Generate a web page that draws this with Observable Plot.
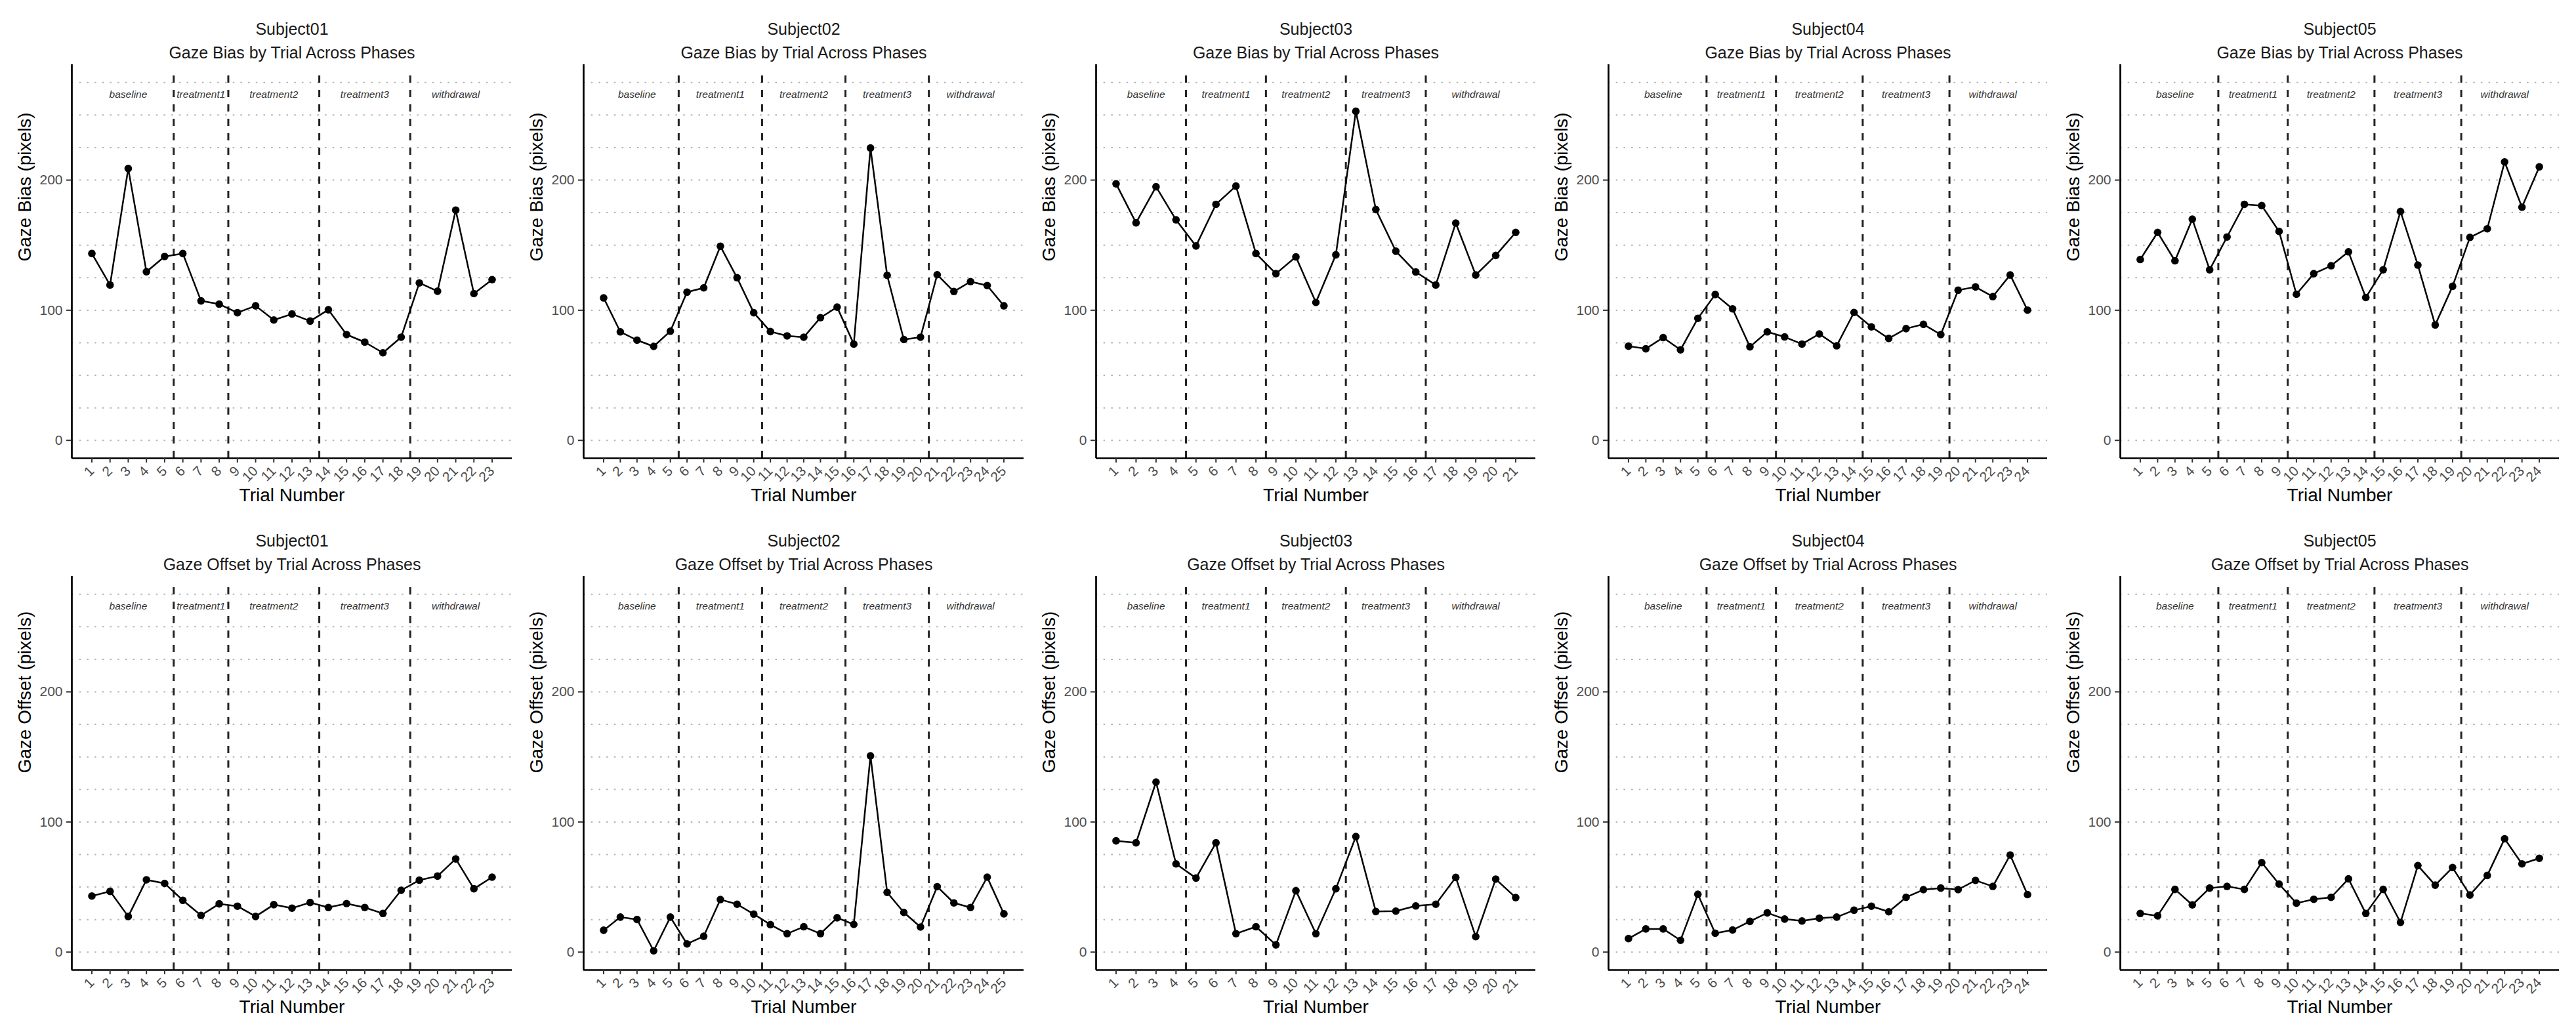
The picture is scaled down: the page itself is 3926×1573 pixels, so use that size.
<!DOCTYPE html>
<html>
<head>
<meta charset="utf-8">
<script src="https://cdn.jsdelivr.net/npm/d3@7"></script>
<script src="https://cdn.jsdelivr.net/npm/@observablehq/plot@0.6"></script>
<style>
  body { margin: 0; background: #fff; }
  #wrap { position: relative; width: 3926px; height: 1573px; background: #fff; }
  #wrap svg { position: absolute; }
</style>
</head>
<body>
<div id="wrap"></div>
<script>
// ---------- data ----------
const subjects = ["Subject01", "Subject02", "Subject03", "Subject04", "Subject05"];
const phaseNames = ["baseline", "treatment1", "treatment2", "treatment3", "withdrawal"];

// number of trials in each phase, per subject
const phaseLen01 = [5, 3, 5, 5, 5];
const phaseLen02 = [5, 5, 5, 5, 5];
const phaseLen03 = [4, 4, 4, 4, 5];
const phaseLen04 = [5, 4, 5, 5, 5];
const phaseLen05 = [5, 4, 5, 5, 5];

// Gaze Bias (pixels) by trial
const bias01 = [143.6, 119.4, 208.9, 129.6, 141.3, 143.6, 107.2, 104.7, 98.1, 103.4, 92.5, 97.1, 91.7, 100.4, 81.3, 75.5, 67.3, 79.3, 121.0, 114.6, 176.9, 112.8, 123.5];
const bias02 = [109.5, 83.4, 77.0, 72.2, 83.9, 113.9, 117.2, 149.2, 125.0, 98.1, 83.6, 80.3, 79.3, 94.3, 102.4, 74.0, 224.7, 126.8, 77.5, 79.3, 127.3, 114.4, 122.0, 119.0, 103.4];
const bias03 = [197.2, 167.2, 194.9, 169.5, 149.4, 181.4, 195.4, 143.6, 128.1, 141.0, 106.0, 142.6, 252.9, 177.4, 145.4, 129.4, 119.4, 167.0, 127.1, 142.1, 159.8];
const bias04 = [72.4, 70.4, 79.0, 69.6, 93.8, 112.1, 101.1, 71.9, 83.4, 79.5, 74.0, 81.8, 72.7, 98.3, 87.2, 78.3, 85.9, 89.2, 81.3, 115.4, 117.9, 110.5, 127.1, 100.1];
const bias05 = [139.0, 159.8, 138.0, 170.0, 131.1, 156.3, 181.4, 180.4, 160.6, 112.3, 128.1, 134.2, 144.9, 109.8, 131.1, 175.9, 134.7, 88.7, 118.4, 156.0, 162.6, 214.0, 179.2, 210.2];

// Gaze Offset (pixels) by trial
const offset01 = [43.1, 46.7, 27.4, 55.6, 52.8, 39.8, 28.2, 37.1, 35.3, 27.4, 36.5, 33.8, 38.1, 34.3, 37.3, 34.3, 29.7, 47.5, 55.3, 58.4, 71.6, 48.7, 57.6];
const offset02 = [16.8, 26.9, 25.1, 1.0, 26.9, 6.3, 12.2, 40.4, 36.8, 29.2, 21.1, 14.2, 19.5, 14.2, 26.4, 21.3, 150.8, 45.9, 30.5, 19.3, 50.3, 37.8, 34.3, 57.6, 29.4];
const offset03 = [85.5, 84.0, 130.7, 67.8, 56.9, 84.0, 14.2, 19.5, 5.6, 47.2, 14.2, 48.7, 88.8, 31.2, 31.5, 35.5, 36.8, 57.4, 11.9, 56.1, 41.9];
const offset04 = [10.4, 17.8, 17.8, 9.1, 44.4, 14.5, 17.0, 23.6, 30.2, 25.4, 23.9, 26.1, 26.9, 32.2, 35.3, 31.0, 42.1, 48.0, 49.2, 48.0, 55.1, 50.5, 74.6, 44.2];
const offset05 = [29.7, 27.9, 48.2, 36.3, 49.2, 50.5, 48.2, 68.8, 52.3, 37.6, 40.6, 42.1, 56.3, 29.7, 48.2, 22.8, 66.5, 51.5, 65.0, 43.9, 58.9, 87.1, 67.8, 72.1];

const yTicks = [0, 100, 200];
const gridValues = [0, 25, 50, 75, 100, 125, 150, 175, 200, 225, 250, 275];
const xTitle = "Trial Number";

// ---------- layout ----------
const phaseLens = [phaseLen01, phaseLen02, phaseLen03, phaseLen04, phaseLen05];
const rows = [
  {title: "Gaze Bias by Trial Across Phases", ylabel: "Gaze Bias (pixels)", series: [bias01, bias02, bias03, bias04, bias05], top: 0, height: 780},
  {title: "Gaze Offset by Trial Across Phases", ylabel: "Gaze Offset (pixels)", series: [offset01, offset02, offset03, offset04, offset05], top: 780, height: 793}
];
const Y_DOMAIN = [-13.75, 288.75];
const colW = 785;
const plotLeft = [109, 889, 1670, 2451, 3231];
const plotRight = [780, 1560, 2340, 3120, 3900];
const panelH = 600;
const mTop = 98;
const font = "'Liberation Sans', Arial, Helvetica, sans-serif";

const wrap = document.getElementById("wrap");

rows.forEach(row => {
  subjects.forEach((subj, i) => {
    const values = row.series[i];
    const n = values.length;
    const trials = d3.range(1, n + 1);
    const data = values.map((v, k) => ({trial: k + 1, value: v}));
    const phases = [];
    const bounds = [];
    let start = 1;
    phaseLens[i].forEach((len, p) => {
      const end = start + len - 1;
      phases.push({name: phaseNames[p], mid: (start + end) / 2});
      if (p < phaseLens[i].length - 1) bounds.push(end + 0.5);
      start = end + 1;
    });
    const pad = 0.05 * (n - 1);
    const xDomain = [1 - pad, n + pad];
    const svgLeft = colW * i;
    const width = i === 4 ? 3926 - svgLeft : colW;
    const marginLeft = plotLeft[i] - svgLeft;
    const marginRight = svgLeft + width - plotRight[i];

    const svg = Plot.plot({
      width,
      height: row.height,
      marginLeft,
      marginRight,
      marginTop: mTop,
      marginBottom: row.height - mTop - panelH,
      x: {domain: xDomain, label: null},
      y: {domain: Y_DOMAIN, label: null},
      style: {fontFamily: font, background: "#fff", color: "#000", overflow: "visible"},
      marks: [
        Plot.gridY(gridValues, {stroke: "#b3b3b3", strokeOpacity: 1, strokeWidth: 2, strokeDasharray: "2.5,9.2"}),
        Plot.ruleX(bounds, {y1: Y_DOMAIN[0], y2: 284, stroke: "#222", strokeWidth: 3, strokeDasharray: "11,11"}),
        Plot.text(phases, {x: "mid", y: 266, text: "name", fontSize: 15.5, fontStyle: "italic", fill: "#333"}),
        Plot.line(data, {x: "trial", y: "value", stroke: "#000", strokeWidth: 2.5}),
        Plot.dot(data, {x: "trial", y: "value", r: 5.8, fill: "#000", stroke: "none"}),
        Plot.ruleX([xDomain[0]], {stroke: "#000", strokeWidth: 2.7}),
        Plot.ruleY([Y_DOMAIN[0]], {stroke: "#000", strokeWidth: 2.7}),
        Plot.axisX({ticks: trials, tickFormat: d => String(d), tickSize: 7, tickPadding: 9, tickRotate: -45,
          fontSize: 21, fill: "#4d4d4d", stroke: "#333", strokeWidth: 2, label: null}),
        Plot.axisY({ticks: yTicks, tickSize: 8, tickPadding: 6, fontSize: 21, fill: "#4d4d4d",
          stroke: "#333", strokeWidth: 2, label: null}),
        Plot.text([subj], {text: d => d, frameAnchor: "top", dy: -63, fontSize: 25, fill: "#1a1a1a"}),
        Plot.text([row.title], {text: d => d, frameAnchor: "top", dy: -27, fontSize: 25, fill: "#1a1a1a"}),
        Plot.text([xTitle], {text: d => d, frameAnchor: "bottom", dy: 65, fontSize: 28, fill: "#000"}),
        Plot.text([row.ylabel], {text: d => d, frameAnchor: "left", dx: -71, rotate: -90, fontSize: 28, fill: "#000"})
      ]
    });
    svg.style.left = svgLeft + "px";
    svg.style.top = row.top + "px";
    wrap.appendChild(svg);
  });
});
</script>
</body>
</html>
